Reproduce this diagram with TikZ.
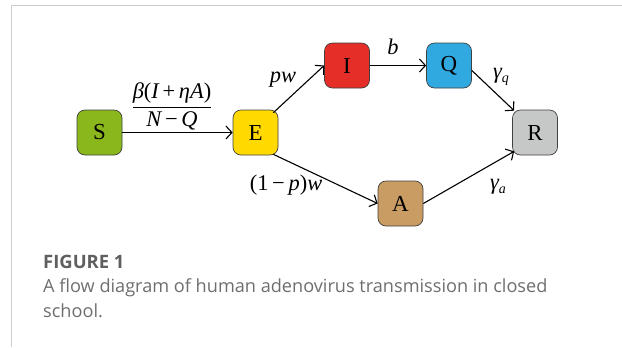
\documentclass[tikz,border=0pt]{standalone}
\usepackage{fontspec}
\setmainfont{Liberation Serif}
\newfontfamily\capfont{Open Sans}
\usetikzlibrary{arrows.meta}
\definecolor{cS}{RGB}{138,184,28}
\definecolor{cE}{RGB}{255,217,0}
\definecolor{cI}{RGB}{229,46,40}
\definecolor{cQ}{RGB}{48,168,224}
\definecolor{cR}{RGB}{198,199,199}
\definecolor{cA}{RGB}{200,156,98}
\definecolor{panelline}{RGB}{205,205,205}
\definecolor{captxt}{RGB}{110,110,110}
\definecolor{caphead}{RGB}{95,95,95}
\begin{document}
\begin{tikzpicture}[x=1bp,y=-1bp,
  comp/.style={draw=black!75, line width=0.7bp, rounded corners=8bp,
    minimum width=45bp, minimum height=45bp, inner sep=0pt,
    font=\fontsize{23}{27}\selectfont},
  flow/.style={line width=1.1bp,
    -{Straight Barb[length=6bp,width=13bp,line width=1.1bp]}},
  ratelabel/.style={font=\fontsize{22.5}{27}\selectfont, inner sep=0pt},
  captext/.style={anchor=base west, inner sep=0pt, font=\capfont\fontsize{18.2}{22}\selectfont, text=captxt}]
\useasboundingbox (0,0) rectangle (622,347);
% panel frame
\draw[panelline, line width=1.5bp] (11.5,347) -- (11.5,5.5) -- (622,5.5);

% compartments
\node[comp, fill=cS] (S) at (99.5,132.5) {S};
\node[comp, fill=cE] (E) at (255.5,132.5) {E};
\node[comp, fill=cI] (I) at (347,65.5) {I};
\node[comp, fill=cQ] (Q) at (449,65.5) {Q};
\node[comp, fill=cR] (R) at (535,132.5) {R};
\node[comp, fill=cA] (A) at (400.5,203.5) {A};

% transitions
\draw[flow] (S.east) -- (E.west);
\draw[flow] ([shift={(-5,3)}]E.north east) -- (I.west);
\draw[flow] (I.east) -- (Q.west);
\draw[flow] ([shift={(0,5)}]Q.east) -- ([shift={(2,1)}]R.north west);
\draw[flow] ([shift={(-5,-1)}]E.south east) -- (A.west);
\draw[flow] (A.east) -- ([shift={(2,-4)}]R.south west);

% rates
\node[ratelabel] (lSE) at (172,106) {$\displaystyle\frac{\mbox{\itshape β\upshape(\itshape I\upshape\,+\,\itshape ηA\upshape)}}{\mbox{\itshape N\upshape\,−\,\itshape Q}}$};
\node[ratelabel] (lEI) at (283,80) {\itshape pw};
\node[ratelabel] (lIQ) at (393,47) {\itshape b};
\node[ratelabel] (lQR) at (501,77) {\itshape γ\raisebox{-0.4ex}{\fontsize{14}{15}\selectfont q}};
\node[ratelabel] (lEA) at (286,185) {(1\,−\,\itshape p\upshape)\itshape w};
\node[ratelabel] (lAR) at (498,187) {\itshape γ\raisebox{-0.4ex}{\fontsize{14}{15}\selectfont a}};

% caption
\node[captext, text=caphead, font=\capfont\bfseries\fontsize{18.5}{22}\selectfont] (ct) at (43,268) {FIGURE 1};
\node[captext] (c1) at (43,292) {A flow diagram of human adenovirus transmission in closed};
\node[captext] (c2) at (43,317) {school.};
\end{tikzpicture}
\end{document}
